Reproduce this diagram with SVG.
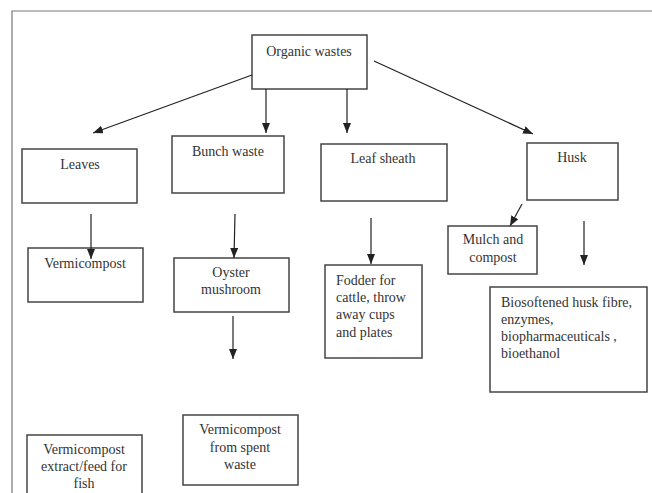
<svg xmlns="http://www.w3.org/2000/svg" width="652" height="493" viewBox="0 0 652 493">
<defs>
<marker id="ah" markerUnits="userSpaceOnUse" markerWidth="12" markerHeight="10" refX="10" refY="4" orient="auto">
<path d="M0,0 L10,4 L0,8 Z" fill="#222"/>
</marker>
<style>
.box{fill:#fff;stroke:#444;stroke-width:1.5}
.t{font-family:"Liberation Serif","Times New Roman",serif;font-size:14px;fill:#333}
.c{text-anchor:middle}
.ln{stroke:#222;stroke-width:1.2;fill:none;marker-end:url(#ah)}
.frame{stroke:#777;stroke-width:1.2;fill:none}
</style>
</defs>
<rect width="652" height="493" fill="#fff"/>
<path class="frame" d="M12,493 L12,11 L652,11"/>
<g id="organic"><rect class="box" x="252" y="35" width="115" height="54"/><text class="t c" x="309" y="56">Organic wastes</text></g>
<g id="leaves"><rect class="box" x="22" y="149" width="115" height="54"/><text class="t c" x="80" y="169">Leaves</text></g>
<g id="bunch"><rect class="box" x="172" y="136" width="112" height="57"/><text class="t c" x="228" y="156">Bunch waste</text></g>
<g id="sheath"><rect class="box" x="321" y="144" width="126" height="57"/><text class="t c" x="383" y="163">Leaf sheath</text></g>
<g id="husk"><rect class="box" x="527" y="143" width="91" height="57"/><text class="t c" x="572" y="162">Husk</text></g>
<g id="vermi"><rect class="box" x="28" y="248" width="115" height="54"/><text class="t c" x="85" y="268">Vermicompost</text></g>
<g id="oyster"><rect class="box" x="174" y="258" width="115" height="54"/><text class="t c" x="231" y="277">Oyster</text><text class="t c" x="231" y="294">mushroom</text></g>
<g id="fodder"><rect class="box" x="325" y="265" width="97" height="93"/><text class="t" x="336" y="285">Fodder for</text><text class="t" x="336" y="302">cattle, throw</text><text class="t" x="336" y="319">away cups</text><text class="t" x="336" y="337">and plates</text></g>
<g id="mulch"><rect class="box" x="448" y="226" width="89" height="48"/><text class="t c" x="493" y="244">Mulch and</text><text class="t c" x="493" y="262">compost</text></g>
<g id="bio"><rect class="box" x="490" y="287" width="157" height="105"/><text class="t" x="501" y="307">Biosoftened husk fibre,</text><text class="t" x="501" y="324">enzymes,</text><text class="t" x="501" y="341">biopharmaceuticals ,</text><text class="t" x="501" y="358">bioethanol</text></g>
<g id="spent"><rect class="box" x="183" y="415" width="115" height="70"/><text class="t c" x="240" y="434">Vermicompost</text><text class="t c" x="240" y="452">from spent</text><text class="t c" x="240" y="469">waste</text></g>
<g id="extract"><rect class="box" x="27" y="435" width="115" height="70"/><text class="t c" x="84" y="454">Vermicompost</text><text class="t c" x="84" y="471">extract/feed for</text><text class="t c" x="84" y="488">fish</text></g>
<g id="connectors">
<line class="ln" x1="252" y1="75" x2="93" y2="133"/>
<line class="ln" x1="266" y1="89" x2="266" y2="133"/>
<line class="ln" x1="347" y1="89" x2="347" y2="133"/>
<line class="ln" x1="374" y1="61" x2="533" y2="134"/>
<line class="ln" x1="91" y1="214" x2="91" y2="259"/>
<line class="ln" x1="235" y1="214" x2="234" y2="258"/>
<line class="ln" x1="371" y1="218" x2="371" y2="264"/>
<line class="ln" x1="522" y1="204" x2="510" y2="226"/>
<line class="ln" x1="584" y1="221" x2="584" y2="265"/>
<line class="ln" x1="233" y1="316" x2="233" y2="359"/>
</g>
</svg>
